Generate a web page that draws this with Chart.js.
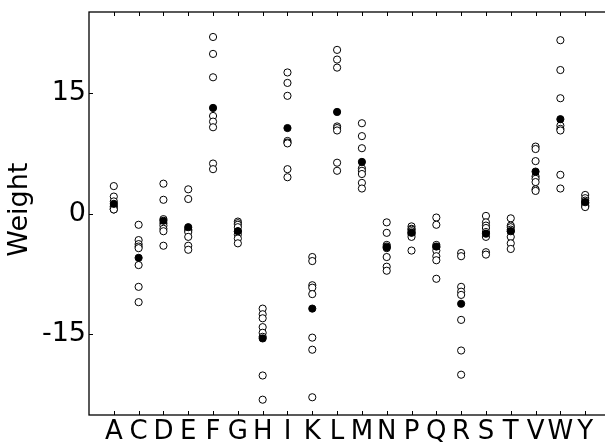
<!DOCTYPE html>
<html><head><meta charset="utf-8">
<script src="https://cdn.jsdelivr.net/npm/chart.js@4"></script>
<style>
html,body{margin:0;padding:0;overflow:hidden;background:#fff;width:605px;height:443px}
#wrap{width:615px;height:443px;position:relative}
canvas{display:block}
</style></head>
<body><div id="wrap"><canvas id="c" width="615" height="443" style="width:615px;height:443px"></canvas></div>
<script>
const categories = ['A','C','D','E','F','G','H','I','K','L','M','N','P','Q','R','S','T','V','W','Y'];
const yTickValues = [-15, 0, 15];
const yLabel = 'Weight';

// individual (open circle) weights per category
const openA = [3.4, 2.1, 1.5, 0.9, 0.8, 0.6, 0.5, 0.5];
const openC = [-1.4, -3.3, -3.8, -4.1, -4.3, -6.4, -9.1, -11.0];
const openD = [3.7, 1.7, -0.7, -1.2, -1.5, -1.9, -2.2, -4.0];
const openE = [3.0, 1.8, -2.0, -2.1, -2.3, -2.9, -4.0, -4.5];
const openF = [21.9, 19.8, 16.9, 12.1, 11.4, 10.7, 6.2, 5.5];
const openG = [-1.0, -1.2, -1.4, -1.7, -2.2, -2.6, -3.1, -3.7];
const openH = [-11.8, -12.5, -13.0, -14.1, -14.8, -15.3, -20.1, -23.1];
const openI = [17.5, 16.2, 14.6, 9.0, 8.8, 8.7, 5.5, 4.5];
const openK = [-5.4, -5.9, -8.9, -9.2, -10.0, -15.4, -16.9, -22.8];
const openL = [20.3, 19.1, 18.1, 10.8, 10.6, 10.3, 6.3, 5.3];
const openM = [11.2, 9.6, 8.1, 5.6, 5.3, 4.9, 3.8, 3.1];
const openN = [-1.1, -2.4, -3.9, -4.1, -4.3, -5.4, -6.6, -7.1];
const openP = [-1.6, -1.9, -2.0, -2.2, -2.4, -2.6, -2.9, -4.6];
const openQ = [-0.5, -1.4, -3.9, -4.2, -4.6, -5.3, -5.8, -8.1];
const openR = [-4.9, -5.3, -9.1, -9.7, -10.1, -13.2, -17.0, -20.0];
const openS = [-0.3, -1.1, -1.5, -1.8, -2.3, -2.9, -4.8, -5.1];
const openT = [-0.6, -1.5, -1.7, -2.0, -2.2, -2.9, -3.7, -4.4];
const openV = [8.3, 8.0, 6.5, 4.6, 4.3, 3.9, 3.0, 2.8];
const openW = [21.5, 17.8, 14.3, 10.9, 10.5, 10.3, 4.8, 3.1];
const openY = [2.3, 1.9, 1.6, 1.4, 1.2, 1.0, 0.9, 0.8];

// mean (filled circle) weight per category
const meanWeights = [1.2, -5.5, -0.9, -1.7, 13.1, -2.2, -15.5, 10.6, -11.8, 12.6, 6.4, -4.2, -2.4, -4.1, -11.2, -2.5, -2.2, 5.2, 11.7, 1.4];

const openWeights = [openA, openC, openD, openE, openF, openG, openH, openI, openK, openL,
                     openM, openN, openP, openQ, openR, openS, openT, openV, openW, openY];

const openPoints = [];
openWeights.forEach((vals, i) => vals.forEach(v => openPoints.push({x: i + 1, y: v})));
const meanPoints = meanWeights.map((v, i) => ({x: i + 1, y: v}));

const FONT = 'DejaVu Sans';

const frameTicks = {
  id: 'frameTicks',
  afterDraw(chart) {
    const {ctx, chartArea: a, scales} = chart;
    ctx.save();
    ctx.strokeStyle = '#000';
    ctx.lineWidth = 1;
    const tl = 4;
    scales.x.ticks.forEach(t => {
      const px = Math.round(scales.x.getPixelForValue(t.value)) + 0.5;
      ctx.beginPath();
      ctx.moveTo(px, a.top); ctx.lineTo(px, a.top + tl);
      ctx.moveTo(px, a.bottom); ctx.lineTo(px, a.bottom - tl);
      ctx.stroke();
    });
    scales.y.ticks.forEach(t => {
      const py = Math.round(scales.y.getPixelForValue(t.value)) + 0.5;
      ctx.beginPath();
      ctx.moveTo(a.left, py); ctx.lineTo(a.left + tl, py);
      ctx.moveTo(a.right, py); ctx.lineTo(a.right - tl, py);
      ctx.stroke();
    });
    ctx.lineWidth = 1.3;
    ctx.strokeRect(a.left, a.top, a.right - a.left, a.bottom - a.top);
    // y-axis title
    ctx.fillStyle = '#000';
    ctx.font = '27px "' + FONT + '"';
    ctx.translate(19.5, 209.7);
    ctx.rotate(-Math.PI / 2);
    ctx.textAlign = 'center';
    ctx.textBaseline = 'middle';
    ctx.fillText(yLabel, 0, 0);
    ctx.restore();
  }
};

new Chart(document.getElementById('c'), {
  type: 'scatter',
  data: {
    datasets: [
      {
        label: 'mean',
        data: meanPoints,
        order: 0,
        pointRadius: 3.6,
        pointHoverRadius: 3.6,
        pointBackgroundColor: '#000',
        pointBorderColor: '#000',
        pointBorderWidth: 1
      },
      {
        label: 'individual',
        data: openPoints,
        order: 1,
        pointRadius: 3.6,
        pointHoverRadius: 3.6,
        pointBackgroundColor: '#fff',
        pointBorderColor: '#000',
        pointBorderWidth: 1
      }
    ]
  },
  options: {
    responsive: false,
    animation: false,
    events: [],
    devicePixelRatio: 1,
    layout: {padding: {left: 0, top: 12, right: 5, bottom: 0}},
    plugins: {legend: {display: false}, tooltip: {enabled: false}},
    scales: {
      x: {
        type: 'linear',
        min: 0, max: 21,
        afterBuildTicks: s => { s.ticks = categories.map((c, i) => ({value: i + 1})); },
        afterFit: s => { s.height = 28; s.paddingLeft = 0; s.paddingRight = 0; },
        grid: {display: false, drawTicks: false},
        border: {display: false},
        ticks: {
          autoSkip: false,
          maxRotation: 0,
          padding: 2,
          color: '#000',
          font: {family: FONT, size: 26},
          callback: v => categories[v - 1] ?? ''
        }
      },
      y: {
        type: 'linear',
        min: -25, max: 25,
        afterBuildTicks: s => { s.ticks = yTickValues.map(v => ({value: v})); },
        afterFit: s => { s.width = 89; s.paddingTop = 0; s.paddingBottom = 0; },
        grid: {display: false, drawTicks: false},
        border: {display: false},
        ticks: {
          padding: 3,
          color: '#000',
          font: {family: FONT, size: 27},
          callback: v => String(v)
        }
      }
    }
  },
  plugins: [frameTicks]
});
</script>
</body></html>
